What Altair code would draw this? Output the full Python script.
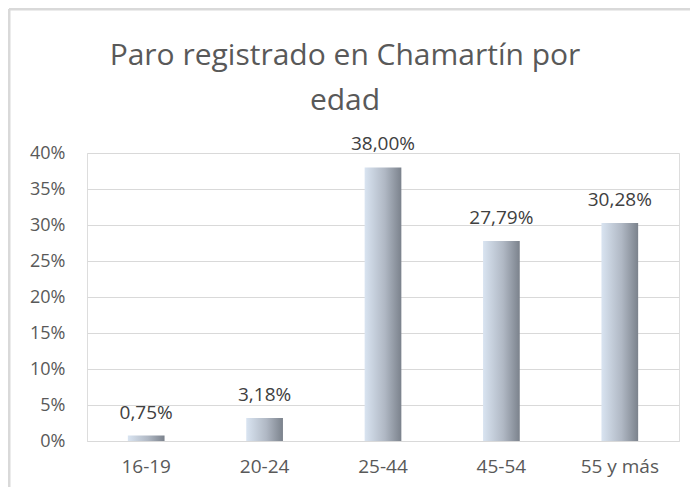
import altair as alt
import pandas as pd

categories = ["16-19", "20-24", "25-44", "45-54", "55 y más"]
values = [0.75, 3.18, 38.00, 27.79, 30.28]
labels = ["0,75%", "3,18%", "38,00%", "27,79%", "30,28%"]
y_ticks = [0, 5, 10, 15, 20, 25, 30, 35, 40]
title_lines = ["Paro registrado en Chamartín por", "edad"]

df = pd.DataFrame({"cat": categories, "val": values, "label": labels})

FONT = "Open Sans"

x_enc = alt.X("cat:N", sort=categories, title=None,
              scale=alt.Scale(paddingInner=0.69, paddingOuter=0.345),
              axis=alt.Axis(labelAngle=0, labelFont=FONT, labelFontSize=19,
                            labelColor="#595959", labelPadding=16,
                            domainColor="#d9d9d9", domainWidth=1, ticks=False, grid=False))
y_enc = alt.Y("val:Q", title=None,
              scale=alt.Scale(domain=[0, 40], nice=False),
              axis=alt.Axis(values=y_ticks, labelOverlap=False,
                            labelExpr="datum.value + '%'",
                            labelFont=FONT, labelFontSize=18, labelColor="#595959",
                            labelPadding=22, domain=False, ticks=False,
                            gridColor="#d9d9d9", gridWidth=1))

base = alt.Chart(df)

bars = base.mark_bar(
    color=alt.Gradient(
        gradient="linear",
        stops=[alt.GradientStop(color="#d9e4f1", offset=0),
               alt.GradientStop(color="#b0b8c4", offset=0.55),
               alt.GradientStop(color="#7b828c", offset=1)],
        x1=0, x2=1, y1=0, y2=0),
).encode(x=x_enc, y=y_enc)

text = base.mark_text(font=FONT, fontSize=19, color="#404040",
                      baseline="alphabetic", dy=-17).encode(
    x=x_enc, y=y_enc, text="label:N")

title = alt.Chart(pd.DataFrame({"t": [0]})).mark_text(
    text=title_lines, font=FONT, fontSize=30, color="#595959",
    baseline="alphabetic", align="center", lineHeight=45,
).encode(x=alt.value(258), y=alt.value(-88))

border = alt.Chart(pd.DataFrame({"t": [0]})).mark_rule(
    color="#d9d9d9", strokeWidth=3).encode(
    x=alt.value(-78), x2=alt.value(603), y=alt.value(-144))
border_left = alt.Chart(pd.DataFrame({"t": [0]})).mark_rule(
    color="#d9d9d9", strokeWidth=3).encode(
    x=alt.value(-78), y=alt.value(-144), y2=alt.value(340))

chart = alt.layer(bars, text, title, border, border_left).properties(
    width=592, height=288,
    autosize=alt.AutoSizeParams(type="none"),
    padding={"left": 79, "top": 145, "right": 11, "bottom": 46},
).configure_view(stroke=None).configure(background="white")

chart.save("out.html", embed_options={"renderer": "svg", "actions": False})
